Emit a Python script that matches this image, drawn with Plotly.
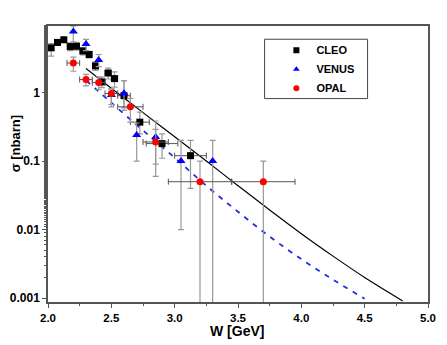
import plotly.graph_objects as go

# CLEO data
cleo_w = [2.025, 2.075, 2.125, 2.175, 2.225, 2.275, 2.325, 2.375, 2.425, 2.475, 2.525, 2.6, 2.725, 2.9, 3.125]
cleo_sig = [4.5, 5.4, 5.9, 4.7, 4.75, 4.05, 3.6, 2.45, 1.43, 1.93, 1.6, 0.9, 0.37, 0.18, 0.12]
cleo_up = [0.7, 0.5, 0.5, 0.6, 0.6, 0.5, 0.4, 0.35, 0.25, 0.35, 0.4, 0.6, 0.15, 0.07, 0.08]
cleo_dn = [1.1, 0.5, 0.5, 0.6, 0.6, 0.5, 0.4, 0.35, 0.25, 0.35, 0.4, 0.3, 0.12, 0.07, 0.08]
cleo_xerr = [0, 0, 0, 0, 0, 0, 0, 0, 0.025, 0.025, 0.025, 0.05, 0.075, 0.125, 0.125]

# VENUS data
venus_w = [2.2, 2.3, 2.4, 2.5, 2.6, 2.7, 2.85, 3.05, 3.3]
venus_sig = [7.8, 5.1, 3.0, 0.92, 0.98, 0.24, 0.225, 0.1, 0.1]
venus_up = [1.5, 0.9, 0.6, 0.22, 0.5, 0.12, 0.16, 0.1, 0.1]
venus_dn = [2.3, 1.0, 0.6, 0.3, 0.43, 0.14, 0.165, 0.09, 0.09999]

# OPAL data
opal_w = [2.2, 2.3, 2.4, 2.5, 2.65, 2.85, 3.2, 3.7]
opal_sig = [2.7, 1.55, 1.4, 0.97, 0.62, 0.19, 0.05, 0.05]
opal_up = [0.6, 0.3, 0.3, 0.15, 0.2, 0.1, 0.05, 0.05]
opal_dn = [0.65, 0.3, 0.3, 0.3, 0.25, 0.1, 0.04999, 0.04999]
opal_xerr = [0.05, 0.05, 0.05, 0.05, 0.1, 0.1, 0.25, 0.25]

# theory curves
solid_w = [2.3, 2.5, 2.75, 3.0, 3.25, 3.5, 3.75, 4.0, 4.25, 4.5, 4.8]
solid_sig = [2.24, 1.16, 0.51, 0.226, 0.1, 0.0437, 0.0193, 0.0087, 0.0041, 0.0020, 0.00091]
dash_w = [2.3, 2.5, 2.75, 3.0, 3.25, 3.5, 3.75, 4.0, 4.25, 4.5]
dash_sig = [1.51, 0.71, 0.28, 0.112, 0.0437, 0.0182, 0.0079, 0.0037, 0.00186, 0.00098]

font = "Liberation Sans, Arial, sans-serif"
ex_col = "#555555"
ey_col = "#999999"
axis_col = "#555555"

fig = go.Figure()

fig.add_trace(go.Scatter(x=solid_w, y=solid_sig, mode="lines", line=dict(color="black", width=1.2),
                         line_shape="spline", showlegend=False))
fig.add_trace(go.Scatter(x=dash_w, y=dash_sig, mode="lines", line=dict(color="#1f2fe0", width=1.8, dash="5px,6px"),
                         line_shape="spline", showlegend=False))


def err(xerr, up, dn):
    ex = dict(type="data", array=xerr, color=ex_col, thickness=1, width=3) if xerr else dict(visible=False)
    ey = dict(type="data", array=up, arrayminus=dn, color=ey_col, thickness=1.2, width=3)
    return ex, ey


ex, ey = err(cleo_xerr, cleo_up, cleo_dn)
fig.add_trace(go.Scatter(x=cleo_w, y=cleo_sig, mode="markers", error_x=ex, error_y=ey,
                         marker=dict(symbol="square", color="black", size=7), showlegend=False))
ex, ey = err(None, venus_up, venus_dn)
fig.add_trace(go.Scatter(x=venus_w, y=venus_sig, mode="markers", error_x=ex, error_y=ey,
                         marker=dict(symbol="triangle-up", color="#0000ff", size=8), showlegend=False))
ex, ey = err(opal_xerr, opal_up, opal_dn)
fig.add_trace(go.Scatter(x=opal_w, y=opal_sig, mode="markers", error_x=ex, error_y=ey,
                         marker=dict(symbol="circle", color="#ff0000", size=7), showlegend=False))

# legend entries
for name, sym, col in [("CLEO", "square", "black"), ("VENUS", "triangle-up", "#0000ff"), ("OPAL", "circle", "#ff0000")]:
    fig.add_trace(go.Scatter(x=[None], y=[None], mode="markers", name=name,
                             marker=dict(symbol=sym, color=col, size=6)))

# the page body has an 8px margin, so the figure is 8px smaller and shifted
fig.update_layout(
    width=439, height=337,
    margin=dict(l=40, r=19, t=18, b=43),
    paper_bgcolor="white", plot_bgcolor="white",
    font=dict(family=font, size=11, color="black"),
    legend=dict(x=0.601, y=0.965, xanchor="left", yanchor="top", bgcolor="rgba(0,0,0,0)",
                borderwidth=0, font=dict(size=11, weight="bold"), tracegroupgap=0),
    shapes=[dict(type="rect", xref="paper", yref="paper", x0=0.570, x1=0.841, y0=0.737, y1=0.952,
                 line=dict(color="#444444", width=1))],
    annotations=[
        dict(text="W [GeV]", xref="paper", yref="paper", x=0.497, y=-0.106, showarrow=False,
             xanchor="center", yanchor="middle", font=dict(size=14, weight="bold")),
        dict(text="σ [nbarn]", xref="paper", yref="paper", x=-0.087, y=0.575, showarrow=False,
             textangle=-90, xanchor="center", yanchor="middle", font=dict(size=13, weight="bold")),
    ],
)
fig.update_xaxes(range=[2.0, 5.0], dtick=0.5, tick0=2.0, tickformat=".1f", ticks="outside", ticklen=4,
                 tickcolor=axis_col, showline=True, linecolor=axis_col, linewidth=1.5, mirror=True,
                 showgrid=False, zeroline=False, tickfont=dict(size=11.5, weight="bold"), automargin=False,
                 minor=dict(dtick=0.25, ticks="outside", ticklen=2.5, tickcolor=axis_col))
fig.update_yaxes(type="log", range=[-3.057, 0.972], tickvals=[0.001, 0.01, 0.1, 1],
                 ticktext=["0.001", "0.01", "0.1", "1"], ticks="outside", ticklen=4,
                 tickcolor=axis_col, showline=True, linecolor=axis_col, linewidth=1.5, mirror=True,
                 showgrid=False, zeroline=False, tickfont=dict(size=12, weight="bold"), automargin=False,
                 minor=dict(ticks="outside", ticklen=2.5, tickcolor=axis_col, showgrid=False))

fig.write_html("out.html")
